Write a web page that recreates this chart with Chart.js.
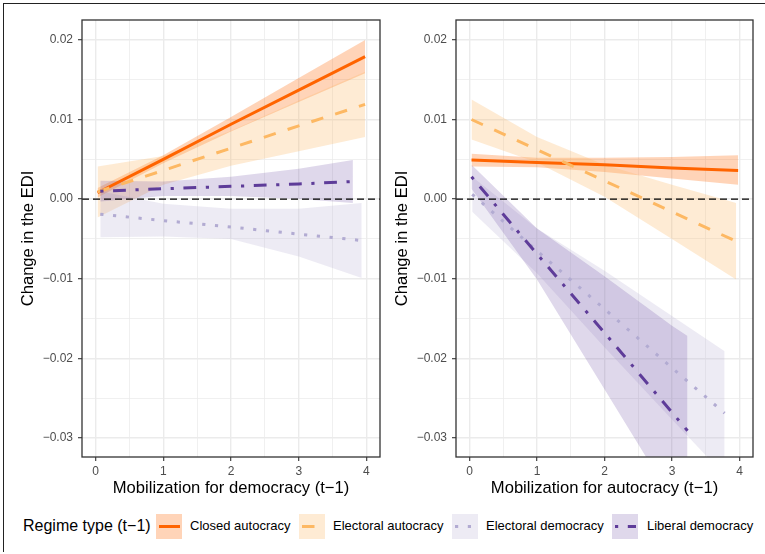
<!DOCTYPE html>
<html>
<head>
<meta charset="utf-8">
<script src="https://cdn.jsdelivr.net/npm/chart.js@4.4.1/dist/chart.umd.min.js"></script>
<style>
html,body{margin:0;padding:0;background:#fff;width:765px;height:554px;overflow:hidden;font-family:"Liberation Sans",Arial,Helvetica,sans-serif;}
#frame{position:absolute;left:3px;top:3px;width:800px;height:548px;border-top:1.5px solid #222;border-left:1.5px solid #222;}
#c1{position:absolute;left:0;top:0;}
#c2{position:absolute;left:384px;top:0;}
.lg-title{position:absolute;left:23px;top:516px;height:20px;line-height:20px;font-size:16px;color:#000;white-space:nowrap;}
.lg-key{position:absolute;top:513.5px;width:26px;height:25px;}
.lg-key svg{position:absolute;left:0;top:0;}
.lg-label{position:absolute;top:516px;height:20px;line-height:20px;font-size:13px;color:#000;white-space:nowrap;}
</style>
</head>
<body>
<div id="frame"></div>
<canvas id="c1" width="384" height="500"></canvas>
<canvas id="c2" width="381" height="500"></canvas>
<div id="legend"></div>
<script>
// ---------- tick values ----------
const xTickValues = [0, 0.5, 1, 1.5, 2, 2.5, 3, 3.5, 4];
const yTickValues = [-0.03, -0.025, -0.02, -0.015, -0.01, -0.005, 0, 0.005, 0.01, 0.015, 0.02];

// ---------- series ----------
const seriesNames = ['Closed autocracy', 'Electoral autocracy', 'Electoral democracy', 'Liberal democracy'];
const legendTitle = 'Regime type (t\u22121)';
const yTitle = 'Change in the EDI';
const xTitleLeft = 'Mobilization for democracy (t\u22121)';
const xTitleRight = 'Mobilization for autocracy (t\u22121)';

// Panel 1: mobilization for democracy
const demClosedX   = [0.03, 1, 2, 3, 3.98];
const demClosedFit = [0.0008, 0.0050, 0.0094, 0.0137, 0.0179];
const demClosedLo  = [0.0002, 0.0045, 0.0085, 0.0122, 0.0158];
const demClosedHi  = [0.0014, 0.0055, 0.0103, 0.0152, 0.0200];

const demEAX   = [0.03, 1, 2, 3, 3.98];
const demEAFit = [0.0009, 0.0036, 0.0064, 0.0092, 0.0119];
const demEALo  = [-0.0023, 0.0018, 0.0042, 0.0060, 0.0078];
const demEAHi  = [0.0041, 0.0054, 0.0086, 0.0124, 0.0160];

const demEDX   = [0.07, 1, 2, 3, 3.93];
const demEDFit = [-0.0019, -0.0027, -0.0035, -0.0044, -0.0052];
const demEDLo  = [-0.0048, -0.0047, -0.0050, -0.0072, -0.0099];
const demEDHi  = [0.0010, -0.0006, -0.0012, -0.0012, -0.0005];

const demLDX   = [0.07, 1, 2, 3, 3.8];
const demLDFit = [0.0010, 0.0013, 0.0016, 0.0019, 0.0022];
const demLDLo  = [-0.0003, 0.0004, 0.0004, 0.0000, -0.0005];
const demLDHi  = [0.0023, 0.0022, 0.0028, 0.0038, 0.0049];

// Panel 2: mobilization for autocracy
const autClosedX   = [0.03, 1, 2, 3, 3.98];
const autClosedFit = [0.0049, 0.0046, 0.0043, 0.0039, 0.0036];
const autClosedLo  = [0.0041, 0.0040, 0.0034, 0.0026, 0.0018];
const autClosedHi  = [0.0057, 0.0052, 0.0052, 0.0053, 0.0055];

const autEAX   = [0.03, 1, 2, 3, 3.95];
const autEAFit = [0.0100, 0.0062, 0.0023, -0.0016, -0.0053];
const autEALo  = [0.0075, 0.0046, 0.0003, -0.0050, -0.0101];
const autEAHi  = [0.0125, 0.0078, 0.0043, 0.0018, -0.0005];

const autEDX   = [0.04, 1, 2, 3, 3.78];
const autEDFit = [0.0006, -0.0065, -0.0138, -0.0212, -0.0269];
const autEDLo  = [-0.0016, -0.0093, -0.0186, -0.0277, -0.0347];
const autEDHi  = [0.0028, -0.0037, -0.0090, -0.0147, -0.0191];

const autLDX   = [0.03, 1, 2, 3, 3.23];
const autLDFit = [0.0028, -0.0069, -0.0168, -0.0268, -0.0291];
const autLDLo  = [0.0013, -0.0101, -0.0239, -0.0377, -0.0410];
const autLDHi  = [0.0043, -0.0037, -0.0097, -0.0159, -0.0172];

const zeroLineX = [-0.2, 4.2];
const zeroLineY = [0, 0];

// ---------- styles ----------
const lineColors = ['#FF6400', '#FDB863', '#B2ABD2', '#5E3C99'];
const ribbonColors = ['rgba(255,100,0,0.28)', 'rgba(253,184,99,0.28)', 'rgba(178,171,210,0.24)', 'rgba(94,60,153,0.2)'];
const lineDashes = [[], [12.5, 12.5], [3.2, 9.6], [3.2, 9.6, 12.8, 9.6]];

Chart.defaults.font.family = '"Liberation Sans", Arial, Helvetica, sans-serif';

function pts(xs, ys) { return xs.map((x, i) => ({x: x, y: ys[i]})); }

function buildDatasets(series) {
  const lines = [], ribbons = [];
  series.forEach((s, k) => {
    lines.push({
      data: pts(s[0], s[1]), borderColor: lineColors[k], borderWidth: 3,
      borderDash: lineDashes[k], borderCapStyle: 'butt', fill: false,
      pointRadius: 0, order: 3 - k, tension: 0
    });
    ribbons.push({
      data: pts(s[0], s[3]), borderWidth: 0, borderColor: 'rgba(0,0,0,0)',
      backgroundColor: ribbonColors[k], fill: '+1', pointRadius: 0, order: 13 - k, tension: 0
    });
    ribbons.push({
      data: pts(s[0], s[2]), borderWidth: 0, borderColor: 'rgba(0,0,0,0)',
      fill: false, pointRadius: 0, order: 13 - k, tension: 0
    });
  });
  const zero = {
    data: pts(zeroLineX, zeroLineY), borderColor: '#000', borderWidth: 1.3,
    borderDash: [7, 4], fill: false, pointRadius: 0, order: 5
  };
  return lines.concat([zero], ribbons);
}

const isMajorX = v => Math.abs(v - Math.round(v)) < 1e-9;
const isMajorY = v => Math.abs(v * 100 - Math.round(v * 100)) < 1e-9;
const fmtY = v => { const s = Math.abs(v).toFixed(2); return (v < -1e-12 ? '\u2212' : '') + s; };

const panelBorder = {
  id: 'panelBorder',
  afterDatasetsDraw(chart) {
    const {ctx, chartArea: a} = chart;
    ctx.save();
    ctx.strokeStyle = '#333333';
    ctx.lineWidth = 1.3;
    ctx.strokeRect(a.left, a.top, a.right - a.left, a.bottom - a.top);
    ctx.restore();
  }
};

function makeOptions(xTitle, yAxisWidth, yTitlePad, rightPad) {
  return {
    responsive: false, animation: false, devicePixelRatio: 1,
    layout: {padding: {left: 0, top: 20, right: rightPad, bottom: 0}},
    plugins: {legend: {display: false}, tooltip: {enabled: false}},
    elements: {point: {radius: 0}, line: {tension: 0}},
    scales: {
      x: {
        type: 'linear', min: -0.2, max: 4.2,
        afterBuildTicks: s => { s.ticks = xTickValues.map(v => ({value: v})); },
        afterFit: s => { s.height = 43; },
        ticks: {autoSkip: false, maxRotation: 0, minRotation: 0, padding: 3, color: '#4D4D4D',
                font: {size: 12}, callback: v => isMajorX(v) ? String(Math.round(v)) : ''},
        grid: {
          color: '#EBEBEB',
          lineWidth: c => (c.tick && isMajorX(c.tick.value)) ? 1.4 : 0.75,
          drawTicks: true, tickLength: 4, tickWidth: 1.1,
          tickColor: c => (c.tick && isMajorX(c.tick.value)) ? '#333333' : 'rgba(0,0,0,0)'
        },
        border: {display: false},
        title: {display: true, text: xTitle, color: '#000', font: {size: 16.6}, padding: {top: 0, bottom: 2.0}}
      },
      y: {
        type: 'linear', min: -0.0324, max: 0.0225,
        afterBuildTicks: s => { s.ticks = yTickValues.map(v => ({value: v})); },
        afterFit: s => { s.width = yAxisWidth; },
        ticks: {autoSkip: false, padding: 5, color: '#4D4D4D', font: {size: 12},
                callback: v => isMajorY(v) ? fmtY(v) : ''},
        grid: {
          color: '#EBEBEB',
          lineWidth: c => (c.tick && isMajorY(c.tick.value)) ? 1.4 : 0.75,
          drawTicks: true, tickLength: 4, tickWidth: 1.1,
          tickColor: c => (c.tick && isMajorY(c.tick.value)) ? '#333333' : 'rgba(0,0,0,0)'
        },
        border: {display: false},
        title: {display: true, text: yTitle, color: '#000', font: {size: 16.6}, padding: {top: yTitlePad, bottom: 0}}
      }
    }
  };
}

new Chart(document.getElementById('c1'), {
  type: 'line',
  data: {datasets: buildDatasets([
    [demClosedX, demClosedFit, demClosedLo, demClosedHi],
    [demEAX, demEAFit, demEALo, demEAHi],
    [demEDX, demEDFit, demEDLo, demEDHi],
    [demLDX, demLDFit, demLDLo, demLDHi]
  ])},
  options: makeOptions(xTitleLeft, 82, 18.0, 4),
  plugins: [panelBorder]
});

new Chart(document.getElementById('c2'), {
  type: 'line',
  data: {datasets: buildDatasets([
    [autClosedX, autClosedFit, autClosedLo, autClosedHi],
    [autEAX, autEAFit, autEALo, autEAHi],
    [autEDX, autEDFit, autEDLo, autEDHi],
    [autLDX, autLDFit, autLDLo, autLDHi]
  ])},
  options: makeOptions(xTitleRight, 72, 8.0, 12),
  plugins: [panelBorder]
});

// ---------- legend ----------
const keyLefts = [156, 299, 452, 612];
const labelLefts = [190, 333, 486, 647];
const lg = document.getElementById('legend');
let html = '<div class="lg-title">' + legendTitle + '</div>';
seriesNames.forEach((name, k) => {
  const dash = lineDashes[k].length ? ' stroke-dasharray="' + lineDashes[k].join(' ') + '"' : '';
  html += '<div class="lg-key" style="left:' + keyLefts[k] + 'px;background:' + ribbonColors[k] + '">' +
    '<svg width="26" height="25"><line x1="3" y1="12.5" x2="24" y2="12.5" stroke="' + lineColors[k] +
    '" stroke-width="3"' + dash + '/></svg></div>';
  html += '<div class="lg-label" style="left:' + labelLefts[k] + 'px">' + name + '</div>';
});
lg.innerHTML = html;
</script>
</body>
</html>
